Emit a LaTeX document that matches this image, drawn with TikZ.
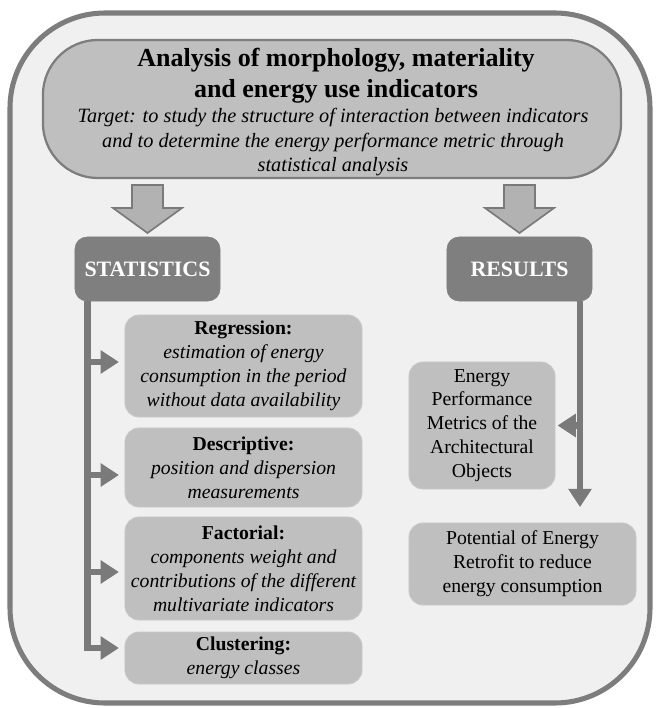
\documentclass[tikz,border=0pt]{standalone}
\usepackage{fontspec}
\setmainfont{Liberation Serif}
\usepackage{xcolor}
\usepackage{tikz}
\usetikzlibrary{arrows.meta,positioning,calc}
\definecolor{paper}{RGB}{240,240,240}
\definecolor{rim}{RGB}{125,125,125}
\definecolor{soft}{RGB}{191,191,191}
\definecolor{mid}{RGB}{178,178,178}
\definecolor{dark}{RGB}{127,127,127}
\definecolor{wire}{RGB}{122,122,122}

\begin{document}
\begin{tikzpicture}[x=0.025cm,y=-0.025cm]
\tikzset{sub/.style={fill=soft,draw=soft!85!white,line width=0.6pt,rounded corners=0.35cm,align=center,inner sep=0pt,font=\fontsize{14}{17}\selectfont},
head/.style={fill=dark,draw=dark,rounded corners=0.3cm,minimum width=3.625cm,minimum height=1.6cm,text=white,font=\fontsize{15.6}{18}\selectfont\bfseries},
bigarrow/.style={fill=mid,draw=wire,line width=1.2pt,line join=miter},
conn/.style={draw=wire,line width=4.8pt,-{Triangle[length=13pt,width=16pt]},shorten >=4pt}}
\fill[white] (0,0) rectangle (660,708);
\useasboundingbox (0,0) rectangle (660,708);
\draw[fill=paper,draw=rim,line width=3.6pt,rounded corners=2.375cm] (10,13) rectangle (650,703);
% top block
\node[fill=soft,draw=rim,line width=1.6pt,rounded corners=1.375cm,minimum width=14.45cm,minimum height=3.45cm] (top) at (332,109) {};
\node[align=center,font=\fontsize{18.5}{22}\selectfont\bfseries] (title) at (336,76) {Analysis of morphology, materiality\\and energy use indicators};
\node[align=center,font=\fontsize{14.45}{17.4}\selectfont\itshape] (target) at (333,142.5) {Target: to study the structure of interaction between indicators\\and to determine the energy performance metric through\\statistical analysis};
% headers
\node[head] (stat) at (147.5,269) {STATISTICS};
\node[head] (res) at (519.5,269) {RESULTS};
\coordinate (a1) at (147.5,185);
\coordinate (a2) at (519.5,185);
\foreach \c in {a1,a2}
  \draw[bigarrow] ([shift={(-15.5,0)}]\c) -- ++(0,23) -- ++(-19,0) -- ++(34.5,25) -- ++(34.5,-25) -- ++(-19,0) -- ++(0,-23) -- cycle;
% statistics boxes
\node[sub,minimum width=5.925cm,minimum height=2.55cm] (reg) at (243.5,366) {{\bfseries Regression:}\\\itshape estimation of energy\\\itshape consumption in the period\\\itshape without data availability};
\node[sub,minimum width=5.925cm,minimum height=1.975cm] (desc) at (243.5,467.5) {{\bfseries Descriptive:}\\\itshape position and dispersion\\\itshape measurements};
\node[sub,minimum width=5.925cm,minimum height=2.575cm] (fact) at (243.5,568.5) {{\bfseries Factorial:}\\\itshape components weight and\\\itshape contributions of the different\\\itshape multivariate indicators};
\node[sub,minimum width=5.925cm,minimum height=1.3cm] (clus) at (243.5,658) {{\bfseries Clustering:}\\\itshape energy classes};
% results boxes
\node[sub,minimum width=3.65cm,minimum height=3.175cm] (epm) at (482,425.5) {Energy\\Performance\\Metrics of the\\Architectural\\Objects};
\node[sub,minimum width=5.675cm,minimum height=2.05cm] (pot) at (522.5,564) {Potential of Energy\\Retrofit to reduce\\energy consumption};
% connectors
\coordinate (lsp) at (87.5,301);
\coordinate (rsp) at (580,301);
\coordinate (regin) at ([shift={(0,-4)}]reg.west);
\coordinate (descin) at ([shift={(0,7.5)}]desc.west);
\coordinate (factin) at ([shift={(0,3.5)}]fact.west);
\coordinate (clusin) at ([shift={(0,-10)}]clus.west);
\foreach \b in {regin,descin,factin} \draw[conn] (lsp |- \b) -- (\b);
\draw[conn] (lsp) |- (clusin);
\draw[conn,shorten >=11pt] (rsp) -- (rsp |- pot.north);
\draw[conn,shorten >=1.5pt] (rsp |- epm.east) -- (epm.east);
\end{tikzpicture}
\end{document}
